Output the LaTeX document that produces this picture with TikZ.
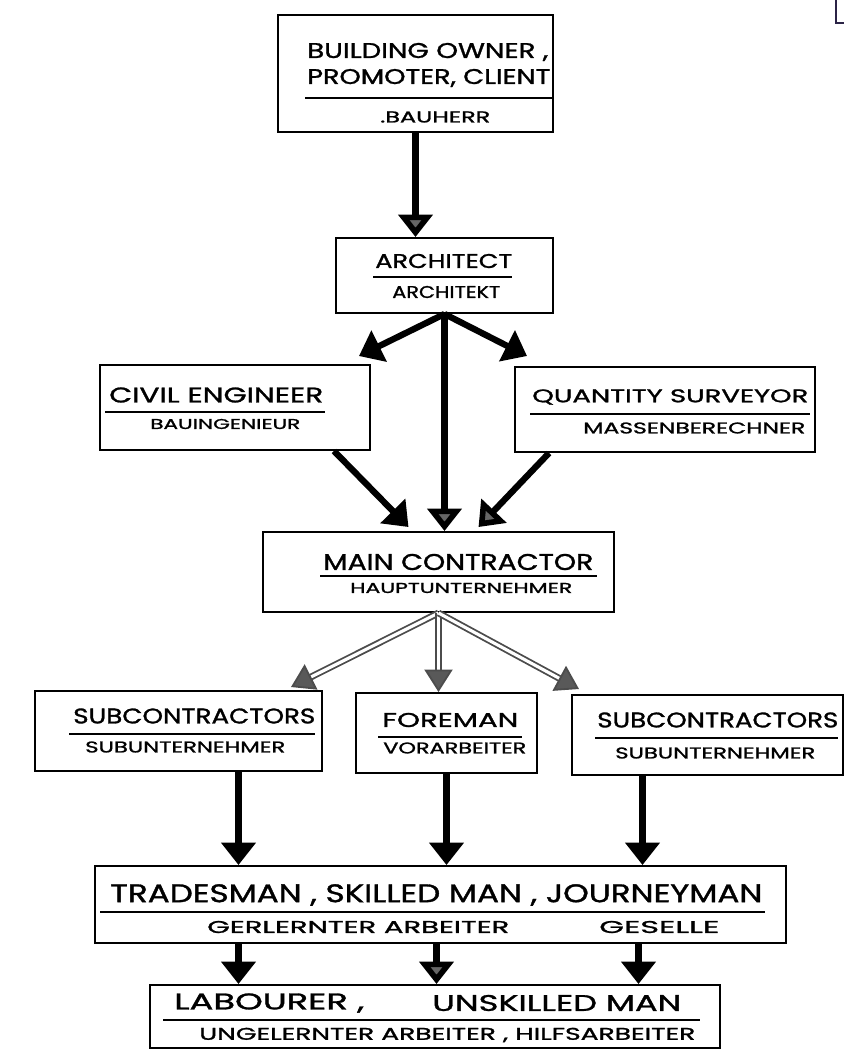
\documentclass[tikz,border=0pt]{standalone}
\usepackage{fontspec}
\setmainfont{Poppins}[FakeBold=1.2]
\usetikzlibrary{arrows.meta, positioning}
\newlength\pxu
\setlength\pxu{0.025cm}
% hand lettering: text stretched to width and cap height (in px)
\newcommand\lett[3]{\resizebox{#1\pxu}{#2\pxu}{#3}}

\begin{document}
\begin{tikzpicture}[x=0.025cm, y=-0.025cm,
    box/.style={draw, line width=1.4pt, rectangle, inner sep=0pt},
    lbl/.style={inner sep=0pt, anchor=west},
    rule/.style={line width=1.1pt},
    blk/.style={line width=4.5pt, -{Triangle[width=24pt,length=16pt]}},
    gry/.style={line width=4.5pt, -{Triangle[width=24pt,length=16pt,fill=gray!80!black]}},
    dbl/.style={draw=gray!60!black, line width=1.3pt, double=white, double distance=2.2pt,
      -{Triangle[width=20pt,length=16pt,fill=gray!70!black]}}]
  \useasboundingbox (0,0) rectangle (844,1054);

  % boxes
  \node[box, minimum width=275\pxu, minimum height=117\pxu] (owner) at (415.5,73.5) {};
  \node[box, minimum width=217\pxu, minimum height=75\pxu]  (arch)  at (444.5,275.5) {};
  \node[box, minimum width=270\pxu, minimum height=85\pxu]  (civ)   at (235,407.5) {};
  \node[box, minimum width=300\pxu, minimum height=85\pxu]  (qs)    at (665,409.5) {};
  \node[box, minimum width=351\pxu, minimum height=80\pxu]  (main)  at (438.5,572) {};
  \node[box, minimum width=287\pxu, minimum height=80\pxu]  (sub1)  at (178.5,731) {};
  \node[box, minimum width=181\pxu, minimum height=80\pxu]  (fore)  at (446.5,733) {};
  \node[box, minimum width=271\pxu, minimum height=80\pxu]  (sub2)  at (707.5,735) {};
  \node[box, minimum width=691\pxu, minimum height=77\pxu]  (trade) at (440.5,904.5) {};
  \node[box, minimum width=570\pxu, minimum height=63\pxu]  (lab)   at (435,1016.5) {};

  % texts
  \node[lbl] (ownerA) at (307,52)  {\lett{241}{15}{BUILDING OWNER ,}};
  \node[lbl] (ownerB) at (307,78)  {\lett{243}{15}{PROMOTER, CLIENT}};
  \node[lbl] (ownerC) at (380,117) {\lett{110}{11}{.BAUHERR}};
  \draw[rule] (305,98) -- (552,98);

  \node[lbl] (archA) at (375,261) {\lett{137}{14}{ARCHITECT}};
  \node[lbl] (archB) at (392,292) {\lett{108}{12}{ARCHITEKT}};
  \draw[rule] (373,277) -- (512,277);

  \node[lbl] (civA) at (109,395) {\lett{214}{15}{CIVIL ENGINEER}};
  \node[lbl] (civB) at (150,424) {\lett{150}{10}{BAUINGENIEUR}};
  \draw[rule] (105,412) -- (325,412);

  \node[lbl] (qsA) at (532,397) {\lett{276}{13}{QUANTITY SURVEYOR}};
  \node[lbl] (qsB) at (583,428) {\lett{222}{11}{MASSENBERECHNER}};
  \draw[rule] (530,414) -- (810,414);

  \node[lbl] (mainA) at (323,562) {\lett{270}{16}{MAIN CONTRACTOR}};
  \node[lbl] (mainB) at (350,588) {\lett{222}{10}{HAUPTUNTERNEHMER}};
  \draw[rule] (320,576) -- (597,576);

  \node[lbl] (sub1A) at (73,716) {\lett{242}{15}{SUBCONTRACTORS}};
  \node[lbl] (sub1B) at (85,747) {\lett{200}{11}{SUBUNTERNEHMER}};
  \draw[rule] (69,734) -- (315,734);

  \node[lbl] (foreA) at (382,720) {\lett{136}{14}{FOREMAN}};
  \node[lbl] (foreB) at (383,748) {\lett{143}{11}{VORARBEITER}};
  \draw[rule] (378,737) -- (522,737);

  \node[lbl] (sub2A) at (597,720) {\lett{241}{15}{SUBCONTRACTORS}};
  \node[lbl] (sub2B) at (615,753) {\lett{200}{11}{SUBUNTERNEHMER}};
  \draw[rule] (595,738) -- (838,738);

  \node[lbl] (tradeA) at (110,895) {\lett{652}{18}{TRADESMAN , SKILLED MAN , JOURNEYMAN}};
  \node[lbl] (tradeB) at (207,927) {\lett{302}{12}{GERLERNTER ARBEITER}};
  \node[lbl] (tradeC) at (599,927) {\lett{120}{12}{GESELLE}};
  \draw[rule] (100,912) -- (765,912);

  \node[lbl] (labA) at (174,1003) {\lett{190}{16}{LABOURER ,}};
  \node[lbl] (labB) at (432,1003) {\lett{249}{16}{UNSKILLED MAN}};
  \node[lbl] (labC) at (199,1035) {\lett{496}{12}{UNGELERNTER ARBEITER , HILFSARBEITER}};
  \draw[rule] (163,1020) -- (700,1020);

  % connectors
  \draw[gry] (owner.south) -- (owner.south |- arch.north);
  \draw[blk] (arch.south) -- ([shift={(-12,-8)}]civ.north east);
  \draw[blk] (arch.south) -- ([shift={(13,-10)}]qs.north west);
  \draw[gry] (arch.south) -- (arch.south |- main.north);
  \draw[blk] ([shift={(-37,0)}]civ.south east) -- ([shift={(-30,-4)}]main.north);
  \draw[gry] ([shift={(35,0)}]qs.south west) -- ([shift={(40,-4)}]main.north);

  \draw[dbl] (main.south) -- ([shift={(-32,-3)}]sub1.north east);
  \draw[dbl] (main.south) -- (main.south |- fore.north);
  \draw[dbl] (main.south) -- ([shift={(8,-5)}]sub2.north west);

  \coordinate (sub1out) at ([shift={(60,0)}]sub1.south);
  \coordinate (sub2out) at ([shift={(-65,0)}]sub2.south);
  \draw[blk] (sub1out) -- (sub1out |- trade.north);
  \draw[blk] (fore.south) -- (fore.south |- trade.north);
  \draw[blk] (sub2out) -- (sub2out |- trade.north);

  \coordinate (tradeL) at ([shift={(-202,0)}]trade.south);
  \coordinate (tradeM) at ([shift={(-4,0)}]trade.south);
  \coordinate (tradeR) at ([shift={(198,0)}]trade.south);
  \draw[blk] (tradeL) -- (tradeL |- lab.north);
  \draw[gry] (tradeM) -- (tradeM |- lab.north);
  \draw[blk] (tradeR) -- (tradeR |- lab.north);

  % corner mark
  \draw[line width=1.5pt, color={rgb,255:red,43;green,35;blue,70}] (836,0) -- (836,23) -- (844,23);
\end{tikzpicture}
\end{document}
